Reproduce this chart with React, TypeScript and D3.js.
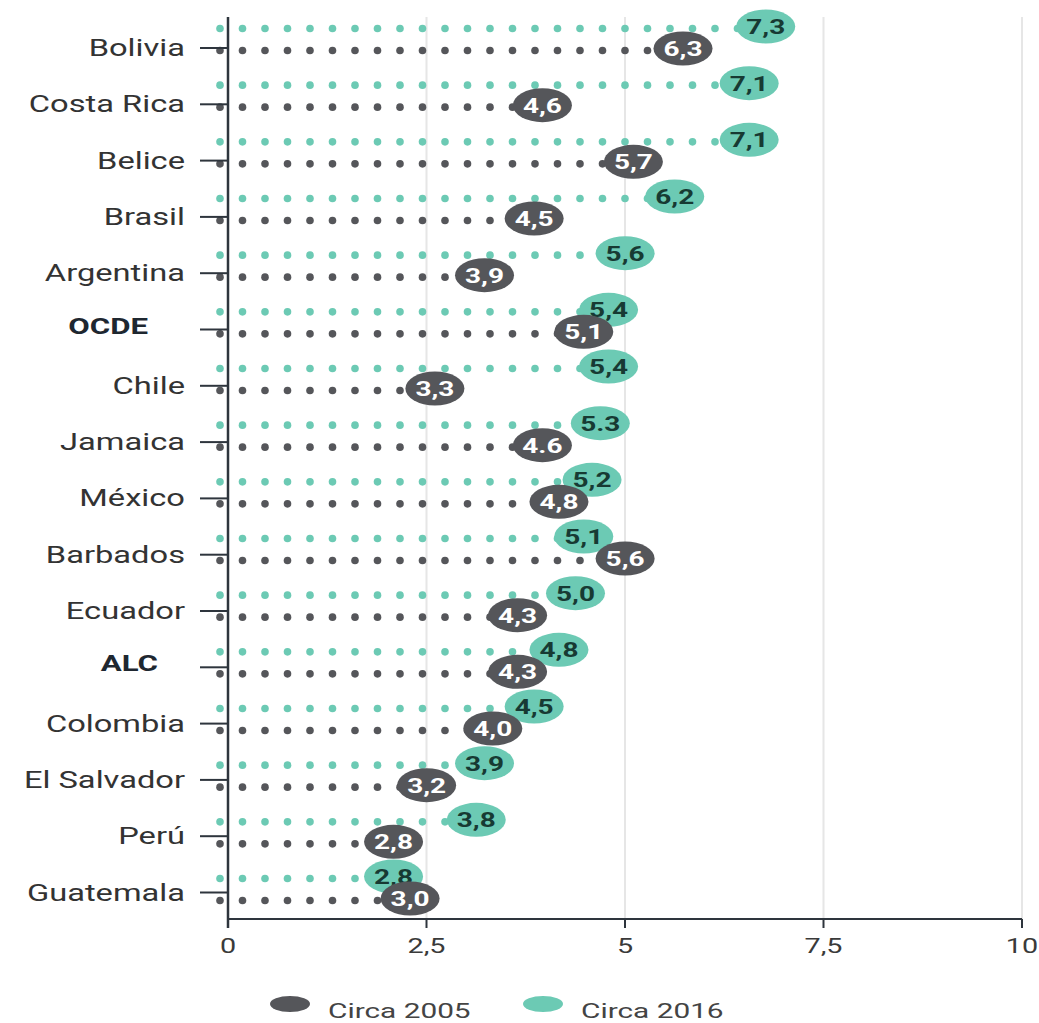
import React, { useEffect, useRef } from "react";
import * as d3 from "d3";

// rows from top to bottom
const countries = [
  "Bolivia", "Costa Rica", "Belice", "Brasil", "Argentina", "OCDE", "Chile", "Jamaica",
  "México", "Barbados", "Ecuador", "ALC", "Colombia", "El Salvador", "Perú", "Guatemala",
];
const values2016 = [7.3, 7.1, 7.1, 6.2, 5.6, 5.4, 5.4, 5.3, 5.2, 5.1, 5.0, 4.8, 4.5, 3.9, 3.8, 2.8];
const values2005 = [6.3, 4.6, 5.7, 4.5, 3.9, 5.1, 3.3, 4.6, 4.8, 5.6, 4.3, 4.3, 4.0, 3.2, 2.8, 3.0];
// the source writes one label with a point instead of a comma
const pointLabels = ["Jamaica"];
const aggregates = ["OCDE", "ALC"];
const xTicks = [0, 2.5, 5, 7.5, 10];
const tickLabels = ["0", "2,5", "5", "7,5", "10"];
const seriesNames = ["Circa 2005", "Circa 2016"];

const COLOR_2005 = "#55565a";
const COLOR_2016 = "#6ccab4";
const AXIS = "#2e353d";
const STRETCH = 1.42;

const App = () => {
  const ref = useRef<SVGSVGElement>(null);

  useEffect(() => {
    const svg = d3.select(ref.current);
    svg.selectAll("*").remove();

    const dims = { width: 1039, height: 1023, top: 17, axisY: 919 };

    const xScale = d3.scaleLinear().domain([0, 10]).range([228, 1022]);
    // bubbles sit on their own, slightly wider scale in the source picture
    const xMark = d3.scaleLinear().domain([0, 10]).range([162, 989]);
    const yTick = d3.scalePoint<string>().domain(countries).range([48, 892.5]);
    const yRow = d3.scalePoint<string>().domain(countries).range([40, 890]);

    const fmt = (v: number, name: string) => {
      const s = d3.format(".1f")(v);
      return pointLabels.includes(name) ? s : s.replace(".", ",");
    };

    // grid
    svg.append("g")
      .selectAll("line")
      .data(xTicks.slice(1))
      .join("line")
      .attr("x1", (d) => xScale(d))
      .attr("x2", (d) => xScale(d))
      .attr("y1", dims.top)
      .attr("y2", dims.axisY)
      .attr("stroke", "#e6e6e6")
      .attr("stroke-width", 2);

    const series = [
      { values: values2016, color: COLOR_2016, text: "#173a33", off: -11.5 },
      { values: values2005, color: COLOR_2005, text: "#ffffff", off: 10.5 },
    ];

    const start = xScale(0) - 8;
    const step = 22.5;

    series.forEach((s) => {
      const g = svg.append("g");
      countries.forEach((c, i) => {
        const y = (yRow(c) as number) + s.off;
        const cx = xMark(s.values[i]);
        const dots = d3.range(start, cx - 18, step);
        g.selectAll(null)
          .data(dots)
          .join("circle")
          .attr("cx", (d) => d)
          .attr("cy", y)
          .attr("r", 3.8)
          .attr("fill", s.color);
      });
    });

    // y axis
    svg.append("line")
      .attr("x1", xScale(0)).attr("x2", xScale(0))
      .attr("y1", dims.top).attr("y2", dims.axisY + 9)
      .attr("stroke", AXIS).attr("stroke-width", 2.5);

    svg.append("g")
      .selectAll("line")
      .data(countries)
      .join("line")
      .attr("x1", xScale(0) - 28)
      .attr("x2", xScale(0))
      .attr("y1", (d) => yTick(d) as number)
      .attr("y2", (d) => yTick(d) as number)
      .attr("stroke", AXIS)
      .attr("stroke-width", 2);

    svg.append("g")
      .selectAll("text")
      .data(countries)
      .join("text")
      .attr("transform", (d) => {
        const agg = aggregates.includes(d);
        const x = d === "OCDE" ? 148 : d === "ALC" ? 158 : 185;
        const y = (yTick(d) as number) + (agg ? 4 : 8);
        return `translate(${x},${y}) scale(${STRETCH},1)`;
      })
      .attr("text-anchor", "end")
      .attr("font-size", (d) => (aggregates.includes(d) ? 22 : 23))
      .attr("font-weight", (d) => (aggregates.includes(d) ? 700 : 400))
      .attr("fill", (d) => (aggregates.includes(d) ? "#1e2730" : "#333"))
      .text((d) => d);

    // x axis
    svg.append("line")
      .attr("x1", xScale(0)).attr("x2", xScale(10))
      .attr("y1", dims.axisY).attr("y2", dims.axisY)
      .attr("stroke", AXIS).attr("stroke-width", 2);

    svg.append("g")
      .selectAll("line")
      .data(xTicks)
      .join("line")
      .attr("x1", (d) => xScale(d))
      .attr("x2", (d) => xScale(d))
      .attr("y1", dims.axisY)
      .attr("y2", dims.axisY + 9)
      .attr("stroke", AXIS)
      .attr("stroke-width", 2);

    svg.append("g")
      .selectAll("text")
      .data(xTicks)
      .join("text")
      .attr("transform", (d) => `translate(${xScale(d)},${dims.axisY + 34}) scale(${STRETCH - 0.05},1)`)
      .attr("text-anchor", "middle")
      .attr("font-size", 21)
      .attr("fill", "#3a3a3a")
      .text((d, i) => tickLabels[i]);

    // bubbles
    series.forEach((s) => {
      const g = svg.append("g");
      const rows = g.selectAll("g")
        .data(countries)
        .join("g")
        .attr("transform", (c, i) => `translate(${xMark(s.values[i])},${(yRow(c) as number) + s.off - 2})`);
      rows.append("ellipse")
        .attr("rx", 29.5)
        .attr("ry", 17)
        .attr("fill", s.color);
      rows.append("text")
        .attr("transform", `translate(0,7.5) scale(${STRETCH - 0.02},1)`)
        .attr("text-anchor", "middle")
        .attr("font-size", 20)
        .attr("font-weight", 700)
        .attr("fill", s.text)
        .text((c, i) => fmt(s.values[i], c));
    });

    // legend
    const legend = svg.append("g")
      .selectAll("g")
      .data(seriesNames)
      .join("g")
      .attr("transform", (d, i) => `translate(${290 + i * 253},1004)`);
    legend.append("ellipse")
      .attr("rx", 20)
      .attr("ry", 8)
      .attr("fill", (d, i) => (i === 0 ? COLOR_2005 : COLOR_2016));
    legend.append("text")
      .attr("transform", `translate(38,14) scale(${STRETCH},1)`)
      .attr("font-size", 21)
      .attr("fill", "#444")
      .text((d) => d);
  }, []);

  return (
    <div style={{ position: "absolute", left: 0, top: 0 }}>
      <svg
        ref={ref}
        width={1039}
        height={1023}
        style={{ display: "block", fontFamily: "Roboto, sans-serif", background: "#fff" }}
      />
    </div>
  );
};

export default App;
